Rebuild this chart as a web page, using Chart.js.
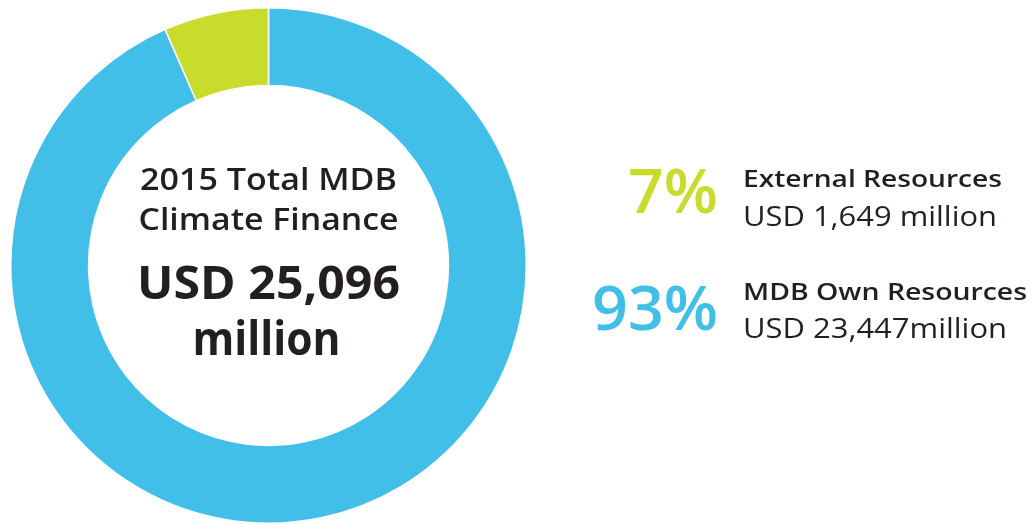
<!DOCTYPE html>
<html>
<head>
<meta charset="utf-8">
<script src="https://cdn.jsdelivr.net/npm/chart.js@4"></script>
<style>
  html, body { margin: 0; padding: 0; background: #ffffff; }
  #wrap { width: 1033px; height: 524px; position: relative; }
</style>
</head>
<body>
<div id="wrap"><canvas id="c"></canvas></div>
<script>
// ---- data ----
const categories = ['MDB Own Resources', 'External Resources'];
const values = [23447, 1649];
const amountLabels = ['USD 23,447million', 'USD 1,649 million'];
const centerTitle = ['2015 Total MDB', 'Climate Finance'];
const centerAmount = ['USD 25,096', 'million'];

const sliceColors = ['#41bfe9', '#c9dc2b'];
const textColor = '#231f20';

function fitText(ctx, text, x, y, font, targetW, align) {
  ctx.save();
  ctx.font = font;
  const w = ctx.measureText(text).width;
  const s = targetW / w;
  ctx.translate(x, y);
  ctx.scale(s, 1);
  ctx.textAlign = align;
  ctx.textBaseline = 'alphabetic';
  ctx.fillText(text, 0, 0);
  ctx.restore();
}

const textPlugin = {
  id: 'texts',
  afterDraw(chart) {
    const ctx = chart.ctx;
    const meta = chart.getDatasetMeta(0);
    const arc = meta.data[0];
    const cx = arc.x;
    ctx.save();
    ctx.fillStyle = textColor;
    // centre text
    fitText(ctx, centerTitle[0], cx, 190, '600 30px "Open Sans"', 257, 'center');
    fitText(ctx, centerTitle[1], cx, 230, '600 30px "Open Sans"', 260, 'center');
    fitText(ctx, centerAmount[0], cx, 299, '700 47px "Open Sans"', 263, 'center');
    fitText(ctx, centerAmount[1], cx - 2, 355, '700 47px "Open Sans"', 148, 'center');

    // legend (External first, then Own)
    const total = values.reduce((a, b) => a + b, 0);
    const order = [1, 0];
    const rows = [
      { pctY: 213, titleY: 187, amtY: 226, titleW: 259, amtW: 254 },
      { pctY: 330, titleY: 300, amtY: 338, titleW: 284, amtW: 264 }
    ];
    order.forEach((i, r) => {
      const pct = Math.round(values[i] / total * 100) + '%';
      const row = rows[r];
      ctx.fillStyle = sliceColors[i];
      const pw = i === 1 ? 90 : 126;
      fitText(ctx, pct, 718, row.pctY, '600 62px "Open Sans"', pw, 'right');
      ctx.fillStyle = textColor;
      fitText(ctx, categories[i], 743, row.titleY, '600 24px "Open Sans"', row.titleW, 'left');
      fitText(ctx, amountLabels[i], 743, row.amtY, '400 27px "Open Sans"', row.amtW, 'left');
    });
    ctx.restore();
  }
};

new Chart(document.getElementById('c'), {
  type: 'doughnut',
  data: {
    labels: categories,
    datasets: [{
      data: values,
      backgroundColor: sliceColors,
      borderColor: '#ffffff',
      borderWidth: 1.5,
      hoverOffset: 0
    }]
  },
  options: {
    responsive: true,
    maintainAspectRatio: false,
    animation: false,
    cutout: '69.8%',
    layout: { padding: { left: 10, right: 506, top: 7, bottom: 0 } },
    plugins: {
      legend: { display: false },
      tooltip: { enabled: false }
    }
  },
  plugins: [textPlugin]
});
</script>
</body>
</html>
